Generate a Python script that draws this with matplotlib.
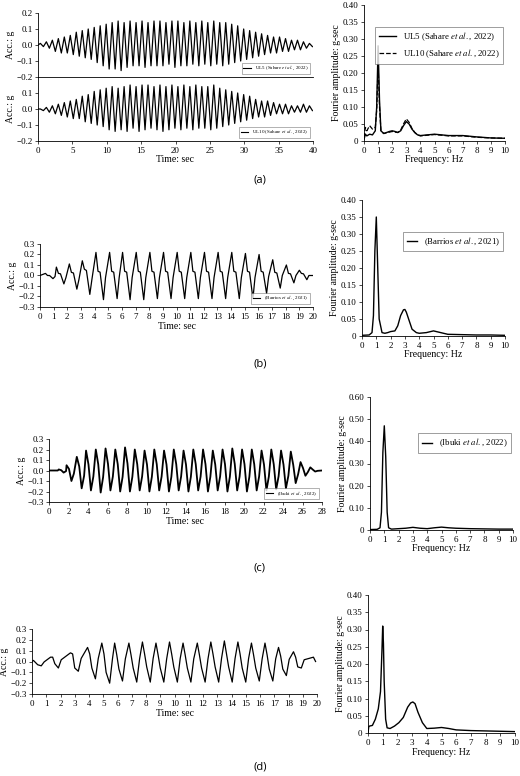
import numpy as np
import matplotlib
matplotlib.use("Agg")
import matplotlib.pyplot as plt

plt.rcParams['font.family'] = ['Liberation Serif', 'DejaVu Serif']
plt.rcParams['mathtext.fontset'] = 'stix'

# ---------------- data ----------------
a_ul5_peaks = [0.01,0.02,0.03,0.04,0.05,0.06,0.08,0.09,0.10,0.11,0.12,0.13,0.14,0.15,0.14,0.15,0.14,0.15,0.14,0.15,0.15,0.14,0.15,0.15,0.14,0.15,0.14,0.15,0.14,0.15,0.14,0.14,0.13,0.12,0.10,0.09,0.08,0.07,0.06,0.05,0.05,0.04,0.03,0.03,0.02,0.01]
a_ul5_troughs = [-0.01,-0.02,-0.04,-0.05,-0.05,-0.06,-0.07,-0.08,-0.09,-0.11,-0.13,-0.15,-0.15,-0.16,-0.14,-0.13,-0.13,-0.14,-0.13,-0.13,-0.13,-0.12,-0.14,-0.13,-0.13,-0.12,-0.13,-0.12,-0.13,-0.12,-0.13,-0.12,-0.11,-0.10,-0.09,-0.08,-0.07,-0.06,-0.05,-0.05,-0.04,-0.04,-0.03,-0.03,-0.02,-0.01]
a_ul10_peaks = [0.0,0.01,0.02,0.03,0.04,0.05,0.06,0.08,0.09,0.11,0.12,0.13,0.14,0.13,0.14,0.15,0.14,0.15,0.15,0.14,0.15,0.14,0.15,0.14,0.15,0.14,0.15,0.14,0.14,0.15,0.13,0.12,0.11,0.10,0.09,0.08,0.06,0.05,0.05,0.04,0.03,0.03,0.02,0.02,0.03,0.02]
a_ul10_troughs = [-0.01,-0.02,-0.03,-0.04,-0.05,-0.06,-0.06,-0.08,-0.09,-0.10,-0.11,-0.13,-0.14,-0.13,-0.14,-0.12,-0.14,-0.13,-0.12,-0.13,-0.14,-0.13,-0.12,-0.13,-0.12,-0.13,-0.12,-0.12,-0.13,-0.12,-0.11,-0.10,-0.09,-0.08,-0.07,-0.06,-0.05,-0.05,-0.04,-0.03,-0.03,-0.03,-0.02,-0.02,-0.02,-0.01]

b_peak_t = [0.4,1.2,2.15,3.1,4.1,5.1,6.05,7.05,8.05,9.05,10.05,11.05,12.05,13.05,14.05,15.05,16.05,17.05,18.05,19.0]
b_peaks = [0.02,0.08,0.11,0.14,0.22,0.22,0.22,0.22,0.22,0.22,0.22,0.22,0.22,0.22,0.22,0.21,0.20,0.15,0.10,0.05]
b_shoulder = [0.00,0.02,0.03,0.06,0.04,0.04,0.04,0.04,0.04,0.04,0.04,0.04,0.04,0.04,0.04,0.04,0.04,0.03,0.02,0.02]
b_troughs = [-0.03,-0.08,-0.13,-0.18,-0.23,-0.22,-0.23,-0.23,-0.22,-0.22,-0.22,-0.22,-0.22,-0.22,-0.22,-0.22,-0.17,-0.12,-0.07,-0.04]
b_after = [-0.01,-0.02,-0.04,-0.04,-0.02,-0.02,-0.02,-0.02,-0.02,-0.02,-0.02,-0.02,-0.02,-0.02,-0.02,-0.02,-0.01,0.0,0.0,0.0]

c_peak_t = [1.0,1.8,2.85,3.8,4.8,5.8,6.8,7.8,8.8,9.8,10.8,11.8,12.8,13.8,14.8,15.8,16.8,17.8,18.8,19.8,20.8,21.8,22.8,23.8,24.8,25.8,26.8]
c_peaks = [0.01,0.05,0.13,0.19,0.20,0.21,0.20,0.22,0.20,0.19,0.20,0.19,0.20,0.19,0.20,0.20,0.19,0.20,0.21,0.20,0.20,0.19,0.20,0.19,0.18,0.08,0.03]
c_troughs = [-0.02,-0.10,-0.17,-0.19,-0.21,-0.19,-0.20,-0.20,-0.19,-0.20,-0.19,-0.20,-0.19,-0.20,-0.19,-0.20,-0.19,-0.20,-0.19,-0.20,-0.19,-0.19,-0.18,-0.17,-0.12,-0.05,-0.01]

d_peak_t = [0.1,1.3,2.7,3.9,4.9,5.8,6.8,7.75,8.7,9.65,10.6,11.6,12.55,13.5,14.45,15.4,16.35,17.3,18.35,19.75]
d_peaks = [0.01,0.04,0.08,0.13,0.17,0.17,0.17,0.18,0.17,0.18,0.17,0.17,0.18,0.19,0.18,0.17,0.17,0.13,0.09,0.04]
d_shoulder = [-0.01,0.04,0.07,0.07,0.07,0.06,0.06,0.07,0.06,0.07,0.06,0.06,0.07,0.07,0.07,0.06,0.06,0.05,0.04,0.0]
d_troughs = [-0.04,-0.06,-0.09,-0.16,-0.20,-0.18,-0.19,-0.19,-0.19,-0.19,-0.19,-0.19,-0.19,-0.19,-0.19,-0.18,-0.18,-0.13,-0.06,-0.01]
d_after = [-0.03,-0.02,-0.06,-0.06,-0.10,-0.07,-0.06,-0.05,-0.06,-0.05,-0.06,-0.06,-0.05,-0.05,-0.06,-0.06,-0.07,-0.07,-0.05,-0.01]

fa = [0,0.1,0.2,0.4,0.6,0.8,0.9,1.0,1.1,1.2,1.4,1.6,1.8,2.0,2.2,2.4,2.6,2.8,3.0,3.2,3.4,3.6,3.8,4.0,4.5,5,5.5,6,7,8,9,10]
fa_ul5 = [0.005,0.02,0.015,0.02,0.018,0.03,0.10,0.28,0.12,0.03,0.022,0.025,0.028,0.03,0.028,0.025,0.03,0.045,0.057,0.05,0.035,0.025,0.018,0.016,0.018,0.02,0.018,0.016,0.016,0.012,0.009,0.008]
fa_ul10 = [0.01,0.04,0.03,0.045,0.035,0.04,0.09,0.225,0.10,0.03,0.022,0.024,0.026,0.028,0.026,0.025,0.032,0.05,0.065,0.055,0.037,0.025,0.018,0.015,0.017,0.019,0.017,0.015,0.015,0.011,0.009,0.008]
fb = [0,0.5,0.7,0.8,0.9,1.0,1.1,1.2,1.4,1.6,1.8,2.0,2.3,2.5,2.7,2.9,3.0,3.1,3.3,3.5,3.8,4.0,4.5,5.0,5.5,6,7,8,9,10]
fb_amp = [0.002,0.003,0.01,0.06,0.25,0.35,0.20,0.05,0.01,0.008,0.01,0.013,0.015,0.03,0.06,0.077,0.078,0.07,0.045,0.02,0.01,0.008,0.01,0.015,0.01,0.005,0.004,0.003,0.003,0.002]
fc = [0,0.5,0.7,0.8,0.9,1.0,1.1,1.2,1.3,1.5,2,2.5,3,3.5,4,4.5,5,5.5,6,7,8,9,10]
fc_amp = [0.002,0.003,0.01,0.08,0.35,0.47,0.33,0.08,0.01,0.004,0.006,0.008,0.012,0.008,0.006,0.01,0.013,0.01,0.008,0.006,0.005,0.004,0.004]
fd = [0,0.05,0.1,0.3,0.5,0.7,0.85,0.95,1.0,1.05,1.1,1.2,1.3,1.5,1.8,2.1,2.4,2.7,2.9,3.05,3.2,3.4,3.7,4.0,4.5,5.0,5.5,6,7,8,9,10]
fd_amp = [0.0,0.018,0.02,0.022,0.04,0.07,0.12,0.24,0.31,0.26,0.15,0.04,0.015,0.013,0.02,0.03,0.045,0.075,0.087,0.09,0.085,0.06,0.03,0.013,0.014,0.016,0.013,0.009,0.007,0.006,0.005,0.004]

# ---------------- helpers ----------------
W, H = 520, 776
fig = plt.figure(figsize=(W/100, H/100), dpi=100)

def ax_px(x0, x1, y_top, y_bot):
    return fig.add_axes([x0/W, 1 - y_bot/H, (x1-x0)/W, (y_bot-y_top)/H])

def style(ax):
    for s in ['top', 'right']:
        ax.spines[s].set_visible(False)
    for s in ['left', 'bottom']:
        ax.spines[s].set_linewidth(0.6)
    ax.tick_params(labelsize=6.5, length=2, width=0.5, pad=2)

def ts_legend(ax, label):
    leg = ax.legend([plt.Line2D([], [], color='k', lw=0.8)], [label], loc='lower right',
                    fontsize=3.6, frameon=True, fancybox=False, edgecolor='#555555',
                    handlelength=1.5, borderpad=0.3, borderaxespad=0.6)
    leg.get_frame().set_linewidth(0.4)

lbl_sah = r'(Sahare $et\ al.$, 2022)'
ylab7 = ['−0.3', '−0.2', '−0.1', '0.0', '0.1', '0.2', '0.3']

# ---------------- (a) ----------------
def a_series(pk, tr):
    per = 40.0 / len(pk)
    tp = np.linspace(0.35, 40 - per + 0.35, len(pk))
    pts = [(0, 0)]
    for i in range(min(len(pk), len(tr))):
        pts += [(tp[i], pk[i]), (tp[i] + per/2, tr[i])]
    return np.array(pts)

axa2 = ax_px(38, 313, 77, 141)
axa1 = ax_px(38, 313, 13, 77)
axa1.set_zorder(3); axa1.patch.set_alpha(0)
s1 = a_series(a_ul5_peaks, a_ul5_troughs)
s2 = a_series(a_ul10_peaks, a_ul10_troughs)
for ax, s, lab in [(axa1, s1, 'UL5 ' + lbl_sah), (axa2, s2, 'UL10 ' + lbl_sah)]:
    style(ax)
    ax.plot(s[:, 0], s[:, 1], color='k', lw=0.9)
    ax.set_xlim(0, 40)
    ax.set_ylim(-0.2, 0.2)
    ax.set_ylabel('Acc.: g', fontsize=7, labelpad=1)
    ts_legend(ax, lab)
axa1.set_yticks([-0.2, -0.1, 0.0, 0.1, 0.2])
axa1.set_yticklabels(['−0.2', '−0.1', '0.0', '0.1', '0.2'])
axa2.set_yticks([-0.2, -0.1, 0.0, 0.1])
axa2.set_yticklabels(['−0.2', '−0.1', '0.0', '0.1'])
axa1.set_xticks([])
axa2.set_xticks(range(0, 41, 5))
axa2.set_xlabel('Time: sec', fontsize=7, labelpad=0)

axfa = ax_px(364, 505, 5, 141)
style(axfa)
axfa.plot(fa, fa_ul5, color='k', lw=1.0, label='UL5 ' + lbl_sah)
axfa.plot(fa, fa_ul10, color='k', lw=0.9, ls='--', label='UL10 ' + lbl_sah)
axfa.set_xlim(0, 10); axfa.set_ylim(0, 0.4)
axfa.set_xticks(range(0, 11))
axfa.set_yticks(np.arange(0, 0.41, 0.05))
axfa.set_yticklabels(['0'] + ['%.2f' % v for v in np.arange(0.05, 0.41, 0.05)])
axfa.set_ylabel('Fourier amplitude: g-sec', fontsize=7, labelpad=1)
axfa.set_xlabel('Frequency: Hz', fontsize=7, labelpad=0)
lg = axfa.legend(loc='upper right', fontsize=6.3, fancybox=False, edgecolor='#555555',
                 handlelength=2, borderpad=0.4, bbox_to_anchor=(1.02, 0.87))
lg.get_frame().set_linewidth(0.5)

# ---------------- (b) ----------------
axb = ax_px(40, 313, 244, 307)
style(axb)
tp = np.array(b_peak_t)
b_full = [(0, 0)]
for i in range(len(b_peaks)):
    b_full += [(tp[i], b_peaks[i]), (tp[i]+0.15, b_shoulder[i]), (tp[i]+0.3, b_shoulder[i]*0.8),
               (tp[i]+0.55, b_troughs[i]), (tp[i]+0.7, b_after[i])]
b_full = np.array(b_full + [(20, 0.0)])
axb.plot(b_full[:, 0], b_full[:, 1], color='k', lw=0.9)
axb.set_xlim(0, 20); axb.set_ylim(-0.3, 0.3)
axb.set_xticks(range(0, 21))
axb.set_yticks(np.arange(-0.3, 0.31, 0.1))
axb.set_yticklabels(ylab7)
axb.set_ylabel('Acc.: g', fontsize=7, labelpad=1)
axb.set_xlabel('Time: sec', fontsize=7, labelpad=1)
ts_legend(axb, r'(Barrios $et\ al.$, 2021)')

axfb = ax_px(362, 505, 200, 336)
style(axfb)
axfb.plot(fb, fb_amp, color='k', lw=1.0, label=r'(Barrios $et\ al.$, 2021)')
axfb.set_xlim(0, 10); axfb.set_ylim(0, 0.4)
axfb.set_xticks(range(0, 11))
axfb.set_yticks(np.arange(0, 0.41, 0.05))
axfb.set_yticklabels(['0'] + ['%.2f' % v for v in np.arange(0.05, 0.41, 0.05)])
axfb.set_ylabel('Fourier amplitude: g-sec', fontsize=7, labelpad=1)
axfb.set_xlabel('Frequency: Hz', fontsize=7, labelpad=0)
lg = axfb.legend(loc='upper right', fontsize=6.3, fancybox=False, edgecolor='#555555',
                 handlelength=1.2, borderpad=0.4, bbox_to_anchor=(1.02, 0.8))
lg.get_frame().set_linewidth(0.5)

# ---------------- (c) ----------------
axc = ax_px(49, 322, 439, 502)
style(axc)
ctp = np.array(c_peak_t)
c_full = [(0, 0), (0.9, 0.0)]
for i in range(len(c_peaks)):
    c_full += [(ctp[i], c_peaks[i]), (ctp[i]+0.25, c_peaks[i]*0.3), (ctp[i]+0.5, c_troughs[i]), (ctp[i]+0.75, c_troughs[i]*0.3)]
c_full = np.array(c_full + [(28, 0.0)])
axc.plot(c_full[:, 0], c_full[:, 1], color='k', lw=1.3)
axc.set_xlim(0, 28); axc.set_ylim(-0.3, 0.3)
axc.set_xticks(range(0, 29, 2))
axc.set_yticks(np.arange(-0.3, 0.31, 0.1))
axc.set_yticklabels(ylab7)
axc.set_ylabel('Acc.: g', fontsize=7, labelpad=1)
axc.set_xlabel('Time: sec', fontsize=7, labelpad=1)
ts_legend(axc, r'(Ibuki $et\ al.$, 2022)')

axfc = ax_px(370, 513, 397, 530)
style(axfc)
axfc.plot(fc, fc_amp, color='k', lw=1.0, label=r'(Ibuki $et\ al.$, 2022)')
axfc.set_xlim(0, 10); axfc.set_ylim(0, 0.6)
axfc.set_xticks(range(0, 11))
axfc.set_yticks(np.arange(0, 0.61, 0.1))
axfc.set_yticklabels(['0'] + ['%.2f' % v for v in np.arange(0.1, 0.61, 0.1)])
axfc.set_ylabel('Fourier amplitude: g-sec', fontsize=7, labelpad=1)
axfc.set_xlabel('Frequency: Hz', fontsize=7, labelpad=0)
lg = axfc.legend(loc='upper right', fontsize=6.3, fancybox=False, edgecolor='#555555',
                 handlelength=1.2, borderpad=0.4, bbox_to_anchor=(1.02, 0.76))
lg.get_frame().set_linewidth(0.5)

# ---------------- (d) ----------------
axd = ax_px(32, 317, 629, 694)
style(axd)
dtp = np.array(d_peak_t)
d_full = [(0, 0)]
for i in range(len(d_peaks)):
    d_full += [(dtp[i], d_peaks[i]), (dtp[i]+0.15, d_shoulder[i]), (dtp[i]+0.3, d_after[i]),
               (dtp[i]+0.55, d_troughs[i]), (dtp[i]+0.75, d_shoulder[i]*0.4)]
d_full = np.array(d_full)
d_full = d_full[d_full[:, 0] <= 20]
axd.plot(d_full[:, 0], d_full[:, 1], color='k', lw=0.9)
axd.set_xlim(0, 20); axd.set_ylim(-0.3, 0.3)
axd.set_xticks(range(0, 21))
axd.set_yticks(np.arange(-0.3, 0.31, 0.1))
axd.set_yticklabels(ylab7)
axd.set_ylabel('Acc.: g', fontsize=7, labelpad=1)
axd.set_xlabel('Time: sec', fontsize=7, labelpad=1)

axfd = ax_px(368, 515, 595, 733)
style(axfd)
axfd.plot(fd, fd_amp, color='k', lw=1.0)
axfd.set_xlim(0, 10); axfd.set_ylim(0, 0.4)
axfd.set_xticks(range(0, 11))
axfd.set_yticks(np.arange(0, 0.41, 0.05))
axfd.set_yticklabels(['0'] + ['%.2f' % v for v in np.arange(0.05, 0.41, 0.05)])
axfd.set_ylabel('Fourier amplitude: g-sec', fontsize=7, labelpad=1)
axfd.set_xlabel('Frequency: Hz', fontsize=7, labelpad=1)

for lab, y in [('(a)', 180), ('(b)', 364), ('(c)', 568), ('(d)', 767)]:
    fig.text(260/W, 1 - y/H, lab, ha='center', va='center', fontsize=8, family='Open Sans')

fig.savefig('out.png', dpi=100)
